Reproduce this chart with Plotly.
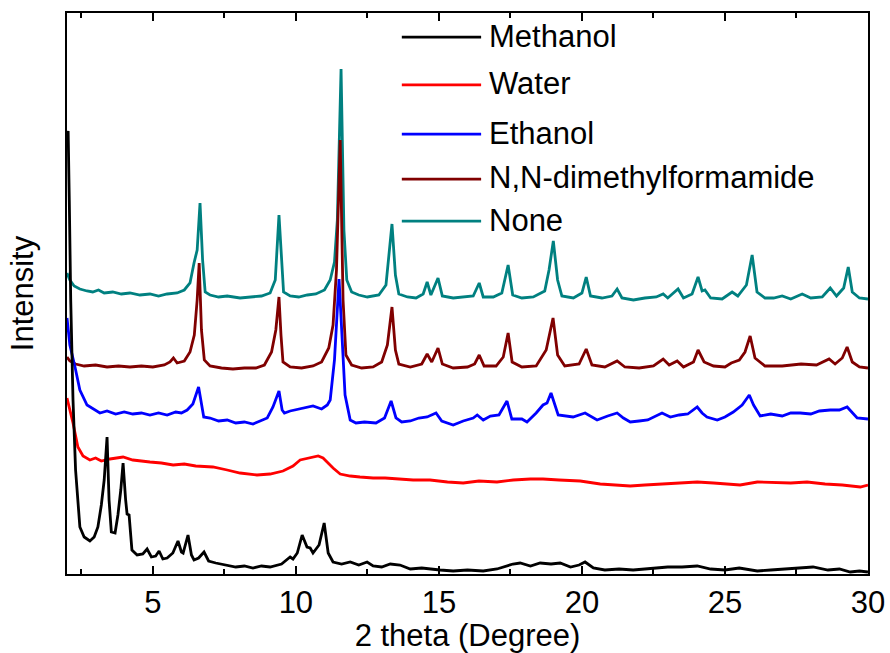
import plotly.graph_objects as go

# ---- data (2 theta in degrees, intensity in arbitrary units) ----
none_x = [2.00, 2.10, 2.25, 2.45, 2.70, 2.90, 3.10, 3.30, 3.60, 3.90, 4.20, 4.55, 4.90, 5.20, 5.50, 5.85, 6.10, 6.30, 6.44, 6.55,
          6.65, 6.74, 6.83, 7.00, 7.30, 7.60, 8.05, 8.40, 8.80, 9.10, 9.28, 9.41, 9.50, 9.57, 9.80, 10.10, 10.40, 10.70, 11.00, 11.20,
          11.35, 11.45, 11.58, 11.68, 11.78, 11.95, 12.20, 12.50, 12.90, 13.15, 13.36, 13.48, 13.60, 13.90, 14.20, 14.45, 14.59, 14.72, 14.97, 15.12,
          15.50, 15.90, 16.20, 16.41, 16.55, 16.90, 17.20, 17.42, 17.58, 17.90, 18.30, 18.70, 18.85, 19.00, 19.15, 19.30, 19.70, 20.00, 20.15, 20.30,
          20.70, 21.05, 21.23, 21.40, 21.80, 22.20, 22.60, 22.84, 23.00, 23.36, 23.55, 23.85, 24.06, 24.20, 24.30, 24.50, 24.90, 25.25, 25.45, 25.75,
          25.95, 26.12, 26.40, 26.70, 27.00, 27.30, 27.70, 28.00, 28.40, 28.68, 28.90, 29.15, 29.31, 29.45, 29.70, 30.00]
none_y = [301, 294, 288, 285, 283, 282, 284, 281, 282, 280, 281, 279, 280, 278, 280, 281, 284, 291, 311, 324,
          371, 314, 282, 279, 277, 278, 276, 277, 278, 281, 294, 359, 312, 282, 278, 277, 279, 280, 284, 294,
          312, 354, 505, 344, 294, 282, 279, 277, 279, 289, 350, 299, 280, 277, 276, 280, 292, 279, 296, 278,
          276, 277, 278, 291, 277, 277, 281, 309, 279, 276, 277, 283, 304, 333, 294, 278, 276, 281, 297, 278,
          276, 278, 285, 276, 274, 276, 277, 280, 276, 285, 276, 280, 297, 283, 284, 276, 275, 282, 278, 289,
          319, 282, 276, 276, 278, 275, 280, 276, 277, 286, 278, 286, 307, 282, 276, 275]

dmf_x = [2.00, 2.10, 2.30, 2.60, 3.00, 3.40, 3.80, 4.20, 4.60, 5.00, 5.40, 5.60, 5.72, 5.85, 6.10, 6.30, 6.45, 6.55, 6.62, 6.70,
         6.80, 7.00, 7.40, 7.80, 8.20, 8.60, 8.90, 9.15, 9.30, 9.41, 9.48, 9.55, 9.80, 10.20, 10.60, 10.90, 11.15, 11.30, 11.42, 11.55,
         11.65, 11.75, 11.95, 12.30, 12.70, 13.00, 13.20, 13.36, 13.48, 13.60, 14.00, 14.40, 14.59, 14.75, 14.97, 15.12, 15.50, 16.00, 16.25, 16.41,
         16.58, 17.00, 17.25, 17.42, 17.56, 17.90, 18.40, 18.75, 18.99, 19.15, 19.40, 19.90, 20.15, 20.35, 20.80, 21.23, 21.50, 22.00, 22.50, 22.84,
         23.05, 23.33, 23.55, 23.90, 24.06, 24.27, 24.60, 25.00, 25.22, 25.50, 25.70, 25.88, 26.05, 26.40, 27.00, 27.66, 28.20, 28.64, 28.85, 29.10,
         29.27, 29.45, 29.70, 30.00]
dmf_y = [217, 213, 210, 208, 209, 207, 208, 207, 208, 207, 209, 212, 216, 211, 213, 222, 239, 274, 311, 244,
         214, 208, 206, 205, 206, 206, 209, 222, 244, 277, 239, 212, 207, 206, 208, 212, 226, 249, 304, 434,
         274, 219, 209, 206, 207, 212, 229, 267, 224, 210, 207, 210, 220, 212, 226, 210, 206, 207, 210, 219,
         208, 208, 217, 241, 212, 207, 208, 224, 256, 219, 208, 210, 225, 209, 207, 213, 207, 206, 208, 215,
         209, 213, 207, 212, 224, 212, 208, 207, 211, 214, 222, 238, 216, 208, 208, 210, 209, 215, 210, 216,
         227, 212, 207, 206]

eth_x = [2.00, 2.10, 2.28, 2.45, 2.70, 3.00, 3.15, 3.40, 3.70, 4.00, 4.30, 4.60, 4.90, 5.20, 5.50, 5.80, 6.00, 6.20, 6.40, 6.60,
         6.70, 6.78, 7.00, 7.30, 7.60, 7.90, 8.20, 8.50, 8.75, 9.00, 9.20, 9.41, 9.52, 9.60, 9.80, 10.10, 10.43, 10.60, 10.90, 11.10,
         11.20, 11.35, 11.51, 11.60, 11.72, 11.90, 12.10, 12.40, 12.80, 13.10, 13.33, 13.50, 13.70, 14.00, 14.30, 14.59, 14.90, 15.10, 15.50, 15.85,
         16.20, 16.34, 16.55, 16.80, 17.10, 17.38, 17.55, 17.90, 18.08, 18.40, 18.64, 18.78, 18.92, 19.17, 19.50, 19.69, 20.11, 20.40, 20.53, 20.90,
         21.23, 21.45, 21.69, 22.00, 22.30, 22.80, 23.09, 23.40, 23.70, 24.03, 24.20, 24.37, 24.73, 25.00, 25.29, 25.60, 25.85, 26.00, 26.23, 26.60,
         27.00, 27.30, 27.63, 28.00, 28.30, 28.68, 29.00, 29.27, 29.50, 29.62, 30.00]
eth_y = [256, 229, 207, 184, 169, 164, 161, 163, 160, 162, 160, 161, 159, 161, 159, 162, 161, 164, 170, 187,
         169, 157, 156, 153, 154, 151, 152, 150, 153, 156, 167, 183, 164, 161, 163, 165, 167, 168, 165, 169,
         174, 214, 295, 244, 179, 154, 151, 152, 151, 156, 173, 156, 152, 153, 156, 157, 161, 153, 149, 153,
         156, 159, 154, 158, 159, 173, 155, 155, 152, 161, 169, 171, 181, 159, 158, 157, 161, 156, 154, 158,
         161, 156, 152, 153, 154, 161, 157, 159, 160, 167, 161, 157, 154, 157, 162, 169, 179, 169, 158, 160,
         158, 161, 161, 160, 163, 164, 164, 167, 159, 156, 155]

water_x = [2.00, 2.10, 2.21, 2.38, 2.56, 2.80, 3.00, 3.20, 3.50, 3.96, 4.30, 4.90, 5.30, 5.71, 6.10, 6.50, 7.10, 7.60, 8.05, 8.64,
           9.10, 9.55, 9.90, 10.15, 10.50, 10.78, 10.95, 11.09, 11.30, 11.55, 11.90, 12.24, 12.70, 13.12, 13.60, 14.10, 14.69, 15.30, 15.85, 16.40,
           17.03, 17.60, 18.20, 18.64, 19.20, 19.94, 20.64, 21.20, 21.69, 22.20, 22.80, 23.50, 24.03, 24.60, 25.10, 25.53, 26.13, 26.80, 27.30, 27.87,
           28.50, 29.10, 29.73, 30.00]
water_y = [176, 164, 151, 127, 118, 114, 116, 113, 115, 117, 114, 112, 111, 109, 110, 108, 107, 104, 101, 99,
           100, 103, 108, 114, 116, 118, 116, 112, 106, 100, 98, 97, 96, 96, 95, 94, 94, 92, 91, 93,
           92, 94, 95, 95, 94, 93, 90, 89, 88, 89, 90, 91, 92, 91, 90, 89, 92, 91, 91, 92,
           90, 89, 87, 89]

meth_x = [2.00, 2.04, 2.08, 2.13, 2.21, 2.30, 2.45, 2.60, 2.80, 2.95, 3.08, 3.20, 3.30, 3.40, 3.47, 3.55, 3.68, 3.78, 3.88, 3.96,
          4.05, 4.10, 4.17, 4.27, 4.45, 4.65, 4.80, 4.95, 5.10, 5.22, 5.35, 5.50, 5.70, 5.88, 6.00, 6.06, 6.23, 6.35, 6.44, 6.60,
          6.79, 6.95, 7.20, 7.59, 7.90, 8.20, 8.50, 8.80, 9.10, 9.50, 9.80, 9.90, 10.05, 10.22, 10.39, 10.50, 10.60, 10.81, 10.99, 11.13,
          11.30, 11.60, 11.90, 12.20, 12.49, 12.70, 13.00, 13.30, 13.64, 14.00, 14.40, 15.04, 15.50, 16.00, 16.55, 17.03, 17.59, 17.84, 18.20, 18.54,
          18.92, 19.24, 19.60, 19.90, 20.11, 20.40, 20.80, 21.30, 21.79, 22.20, 22.63, 23.00, 23.50, 24.03, 24.50, 25.00, 25.50, 26.13, 26.60, 27.00,
          27.50, 28.08, 28.60, 29.00, 29.38, 29.70, 30.00]
meth_y = [434, 443, 374, 274, 174, 104, 47, 37, 33, 37, 47, 69, 94, 137, 74, 42, 41, 59, 84, 111,
          74, 60, 59, 24, 19, 20, 25, 17, 18, 23, 15, 16, 21, 33, 22, 21, 39, 19, 14, 16,
          22, 13, 11, 9, 7, 8, 6, 8, 7, 10, 17, 15, 21, 39, 27, 26, 21, 29, 51, 21,
          12, 10, 12, 9, 12, 8, 7, 10, 9, 5, 6, 4, 3, 4, 3, 5, 10, 11, 8, 11,
          10, 11, 7, 9, 12, 6, 4, 5, 4, 5, 6, 7, 7, 8, 5, 4, 6, 3, 4, 5,
          6, 7, 4, 5, 2, 3, 2]

names = ["Methanol", "Water", "Ethanol", "N,N-dimethylformamide", "None"]
colors = ["#000000", "#ff0000", "#0000ff", "#800000", "#008080"]
xs = [meth_x, water_x, eth_x, dmf_x, none_x]
ys = [meth_y, water_y, eth_y, dmf_y, none_y]
x_ticks = [5, 10, 15, 20, 25, 30]
x_minor = [2.5, 7.5, 12.5, 17.5, 22.5, 27.5]

FONT = "Arial, Liberation Sans, sans-serif"
FS = 31

fig = go.Figure()
for i in [4, 3, 2, 1, 0]:
    fig.add_trace(go.Scatter(x=xs[i], y=ys[i], mode="lines", name=names[i],
                             line=dict(color=colors[i], width=2.8), showlegend=False))

# manual legend (layout elements)
leg_y = [0.957, 0.872, 0.784, 0.704, 0.629]
for i, nm in enumerate(names):
    fig.add_shape(type="line", xref="paper", yref="paper", x0=0.418, x1=0.517,
                  y0=leg_y[i], y1=leg_y[i], line=dict(color=colors[i], width=2.8))
    fig.add_annotation(xref="paper", yref="paper", x=0.524, y=leg_y[i] + 0.002, text=nm,
                       showarrow=False, xanchor="left", yanchor="middle",
                       font=dict(family=FONT, size=FS, color="#000000"))

fig.update_layout(
    width=890, height=653,
    margin=dict(l=67, r=22, t=13, b=79),
    paper_bgcolor="white", plot_bgcolor="white",
    font=dict(family=FONT, size=FS, color="#000000"),
    xaxis=dict(range=[2, 30], tickvals=x_ticks, ticks="inside", ticklen=8, tickwidth=2,
               tickcolor="black", showline=True, linecolor="black", linewidth=2, mirror="ticks",
               showgrid=False, zeroline=False, automargin=False,
               minor=dict(tickvals=x_minor, ticks="inside", ticklen=5, tickwidth=1.5, tickcolor="black"),
               title=dict(text="2 theta (Degree)", font=dict(size=FS), standoff=2),
               tickfont=dict(size=FS)),
    yaxis=dict(range=[0, 561], showticklabels=False, ticks="", showline=True, linecolor="black",
               linewidth=2, mirror=True, showgrid=False, zeroline=False, automargin=False,
               title=dict(text="Intensity", font=dict(size=FS), standoff=22)),
)

fig.write_html("out.html")
